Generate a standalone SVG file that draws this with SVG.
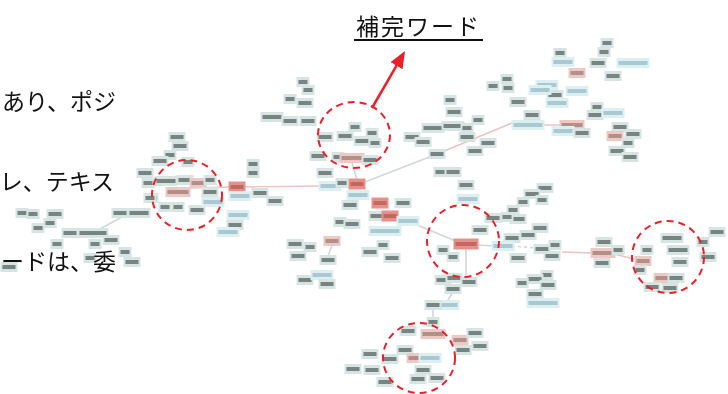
<svg xmlns="http://www.w3.org/2000/svg" xmlns:xlink="http://www.w3.org/1999/xlink" width="728" height="394" viewBox="0 0 728 394">
<style>
.jp{font-family:"Noto Sans CJK JP","Noto Sans",sans-serif;fill:#111;font-size:23px}
.ci{fill:none;stroke:#e8202a;stroke-width:2;stroke-dasharray:7 5}
.e{fill:none;stroke:#d3d6d6;stroke-width:1.6}
.ep{fill:none;stroke:#eac2c2;stroke-width:1.4}
.tb{fill:#d6e4e2}.tt{fill:#3f4847;opacity:.62}
.lb{fill:#dcf0f3}.lt{fill:#7fa8b0;opacity:.55}
.pb{fill:#ecc9c5}.pt{fill:#7a5550;opacity:.5}
.rb{fill:#e59189}.rt{fill:#a8453e;opacity:.55}
</style>
<defs>
<filter id="bl" x="-5%" y="-5%" width="110%" height="110%"><feGaussianBlur stdDeviation="0.75"/></filter>
<marker id="ah" markerUnits="userSpaceOnUse" markerWidth="18" markerHeight="15" refX="14" refY="7" orient="auto"><path d="M0,0 L17,7 L0,14 z" fill="#e8202a"/></marker>
<g id="s"><rect class="tb" x="-6.5" y="-5" width="13" height="10"/><rect class="tt" x="-4.5" y="-2" width="9" height="4"/></g>
<g id="m"><rect class="tb" x="-8.5" y="-5" width="17" height="10"/><rect class="tt" x="-6.5" y="-2" width="13" height="4"/></g>
<g id="w"><rect class="tb" x="-11.5" y="-5" width="23" height="10"/><rect class="tt" x="-9.5" y="-2" width="19" height="4"/></g>
<g id="W"><rect class="tb" x="-15.5" y="-5" width="31" height="10"/><rect class="tt" x="-13.5" y="-2" width="27" height="4"/></g>
<g id="L"><rect class="lb" x="-11.5" y="-5" width="23" height="10"/><rect class="lt" x="-9.5" y="-2" width="19" height="4"/></g>
<g id="LL"><rect class="lb" x="-16.5" y="-5" width="33" height="10"/><rect class="lt" x="-14.5" y="-2" width="29" height="4"/></g>
<g id="p"><rect class="pb" x="-8.5" y="-5" width="17" height="10"/><rect class="pt" x="-6.5" y="-2" width="13" height="4"/></g>
<g id="P"><rect class="pb" x="-12.5" y="-5" width="25" height="10"/><rect class="pt" x="-10.5" y="-2" width="21" height="4"/></g>
<g id="r"><rect class="rb" x="-8.5" y="-5.5" width="17" height="11"/><rect class="rt" x="-6.5" y="-2" width="13" height="4"/></g>
<g id="R"><rect class="rb" x="-12.5" y="-5.5" width="25" height="11"/><rect class="rt" x="-10.5" y="-2" width="21" height="4"/></g>
</defs>
<rect width="728" height="394" fill="#ffffff"/>
<g id="connectors" filter="url(#bl)">
<path class="ep" d="M245,187 L322,186"/>
<path class="e" d="M365,182 L437,154"/>
<path class="ep" d="M437,154 L512,123"/>
<path class="ep" d="M544,125 L562,125"/>
<path class="e" d="M458,242 L410,222"/>
<path class="e" d="M478,245 L495,246"/>
<path class="e" d="M512,246 L536,248" stroke-dasharray="3 3"/>
<path class="ep" d="M562,252 L592,253"/>
<path class="ep" d="M614,254 L634,259"/>
<path class="e" d="M433,309 L433,318"/>
<path class="e" d="M448,300 L453,292"/>
<path class="e" d="M122,217 L100,229"/>
<path class="e" d="M466,249 L466,275"/>
<path class="e" d="M332,245 L328,256"/>
<path class="ep" d="M187,188 L229,187"/>
<path class="e" d="M357,180 L352,163"/>
</g>
<g id="nodes" filter="url(#bl)">
<g id="n1"><use href="#s" x="22" y="213"/></g>
<g id="n2"><use href="#s" x="33" y="214"/></g>
<g id="n3"><use href="#m" x="55" y="214"/></g>
<g id="n4"><use href="#s" x="50" y="223"/></g>
<g id="n5"><use href="#s" x="38" y="228"/></g>
<g id="n6"><use href="#m" x="70" y="233"/></g>
<g id="n7"><use href="#W" x="93" y="233"/></g>
<g id="n8"><use href="#m" x="111" y="240"/></g>
<g id="n9"><use href="#s" x="95" y="244"/></g>
<g id="n10"><use href="#s" x="57" y="244"/></g>
<g id="n11"><use href="#s" x="125" y="252"/></g>
<g id="n12"><use href="#m" x="132" y="262"/></g>
<g id="n13"><use href="#s" x="90" y="258"/></g>
<g id="n14"><use href="#m" x="9" y="267"/></g>
<g id="n15"><use href="#m" x="120" y="213"/></g>
<g id="n16"><use href="#w" x="139" y="213"/></g>
<g id="n17"><use href="#s" x="152" y="198"/></g>
<g id="n18"><use href="#m" x="177" y="137"/></g>
<g id="n19"><use href="#m" x="180" y="146"/></g>
<g id="n20"><use href="#s" x="170" y="155"/></g>
<g id="n21"><use href="#m" x="160" y="161"/></g>
<g id="n22"><use href="#s" x="188" y="162"/></g>
<g id="n23"><use href="#m" x="145" y="173"/></g>
<g id="n24"><use href="#w" x="166" y="181"/></g>
<g id="n25"><use href="#s" x="148" y="183"/></g>
<g id="n26"><use href="#m" x="185" y="180"/></g>
<g id="n27"><use href="#p" x="198" y="183"/></g>
<g id="n28"><use href="#s" x="210" y="180"/></g>
<g id="n29"><use href="#m" x="210" y="192"/></g>
<g id="n30"><use href="#P" x="178" y="192"/></g>
<g id="n31"><use href="#s" x="150" y="198"/></g>
<g id="n32"><use href="#s" x="165" y="207"/></g>
<g id="n33"><use href="#s" x="178" y="207"/></g>
<g id="n34"><use href="#m" x="197" y="210"/></g>
<g id="n35"><use href="#L" x="213" y="202"/></g>
<g id="n37"><use href="#r" x="237" y="187"/></g>
<g id="n38"><use href="#s" x="253" y="164"/></g>
<g id="n39"><use href="#s" x="253" y="173"/></g>
<g id="n40"><use href="#L" x="240" y="196"/></g>
<g id="n41"><use href="#m" x="260" y="193"/></g>
<g id="n42"><use href="#m" x="275" y="201"/></g>
<g id="n43"><use href="#L" x="238" y="215"/></g>
<g id="n44"><use href="#m" x="235" y="225"/></g>
<g id="n45"><use href="#L" x="228" y="232"/></g>
<g id="n46"><use href="#s" x="303" y="82"/></g>
<g id="n47"><use href="#s" x="308" y="90"/></g>
<g id="n48"><use href="#s" x="290" y="99"/></g>
<g id="n49"><use href="#m" x="305" y="103"/></g>
<g id="n50"><use href="#w" x="272" y="117"/></g>
<g id="n51"><use href="#m" x="290" y="121"/></g>
<g id="n52"><use href="#m" x="308" y="121"/></g>
<g id="n53"><use href="#m" x="325" y="137"/></g>
<g id="n54"><use href="#m" x="345" y="136"/></g>
<g id="n55"><use href="#s" x="355" y="127"/></g>
<g id="n56"><use href="#m" x="362" y="141"/></g>
<g id="n57"><use href="#s" x="372" y="133"/></g>
<g id="n58"><use href="#s" x="375" y="143"/></g>
<g id="n59"><use href="#m" x="318" y="156"/></g>
<g id="n60"><use href="#s" x="338" y="157"/></g>
<g id="n61"><use href="#P" x="352" y="158"/></g>
<g id="n62"><use href="#m" x="370" y="160"/></g>
<g id="n63"><use href="#m" x="325" y="173"/></g>
<g id="n64"><use href="#L" x="330" y="186"/></g>
<g id="n65"><use href="#s" x="342" y="183"/></g>
<g id="n66"><use href="#r" x="357" y="184"/></g>
<g id="n67"><use href="#L" x="358" y="195"/></g>
<g id="n72"><use href="#m" x="350" y="205"/></g>
<g id="n73"><use href="#r" x="380" y="203"/></g>
<g id="n74"><use href="#m" x="403" y="203"/></g>
<g id="n75"><use href="#m" x="377" y="216"/></g>
<g id="n76"><use href="#r" x="390" y="216"/></g>
<g id="n77"><use href="#LL" x="385" y="231"/></g>
<g id="n78"><use href="#L" x="408" y="221"/></g>
<g id="n79"><use href="#s" x="340" y="222"/></g>
<g id="n80"><use href="#m" x="352" y="224"/></g>
<g id="n81"><use href="#p" x="332" y="241"/></g>
<g id="n82"><use href="#m" x="295" y="244"/></g>
<g id="n83"><use href="#s" x="310" y="247"/></g>
<g id="n84"><use href="#m" x="298" y="256"/></g>
<g id="n85"><use href="#m" x="328" y="260"/></g>
<g id="n86"><use href="#s" x="383" y="245"/></g>
<g id="n87"><use href="#m" x="370" y="252"/></g>
<g id="n88"><use href="#m" x="392" y="258"/></g>
<g id="n89"><use href="#m" x="305" y="280"/></g>
<g id="n90"><use href="#L" x="322" y="275"/></g>
<g id="n91"><use href="#m" x="327" y="284"/></g>
<g id="n92"><use href="#m" x="412" y="137"/></g>
<g id="n93"><use href="#w" x="433" y="128"/></g>
<g id="n94"><use href="#m" x="423" y="142"/></g>
<g id="n95"><use href="#m" x="437" y="154"/></g>
<g id="n96"><use href="#s" x="450" y="100"/></g>
<g id="n97"><use href="#m" x="454" y="112"/></g>
<g id="n98"><use href="#w" x="453" y="126"/></g>
<g id="n99"><use href="#s" x="467" y="128"/></g>
<g id="n100"><use href="#s" x="478" y="120"/></g>
<g id="n101"><use href="#m" x="467" y="137"/></g>
<g id="n102"><use href="#m" x="488" y="143"/></g>
<g id="n103"><use href="#m" x="442" y="172"/></g>
<g id="n104"><use href="#m" x="453" y="172"/></g>
<g id="n106"><use href="#m" x="466" y="185"/></g>
<g id="n107"><use href="#L" x="468" y="199"/></g>
<g id="n108"><use href="#m" x="475" y="151"/></g>
<g id="n109"><use href="#s" x="607" y="43"/></g>
<g id="n110"><use href="#s" x="604" y="52"/></g>
<g id="n111"><use href="#s" x="560" y="53"/></g>
<g id="n112"><use href="#L" x="563" y="62"/></g>
<g id="n113"><use href="#m" x="598" y="63"/></g>
<g id="n114"><use href="#LL" x="633" y="63"/></g>
<g id="n115"><use href="#p" x="577" y="73"/></g>
<g id="n116"><use href="#m" x="613" y="76"/></g>
<g id="n117"><use href="#s" x="507" y="79"/></g>
<g id="n118"><use href="#s" x="493" y="86"/></g>
<g id="n119"><use href="#s" x="508" y="88"/></g>
<g id="n120"><use href="#L" x="547" y="85"/></g>
<g id="n121"><use href="#m" x="555" y="95"/></g>
<g id="n122"><use href="#L" x="577" y="91"/></g>
<g id="n123"><use href="#L" x="540" y="90"/></g>
<g id="n124"><use href="#L" x="557" y="103"/></g>
<g id="n125"><use href="#m" x="518" y="102"/></g>
<g id="n126"><use href="#m" x="532" y="115"/></g>
<g id="n127"><use href="#LL" x="528" y="125"/></g>
<g id="n128"><use href="#s" x="597" y="107"/></g>
<g id="n129"><use href="#m" x="595" y="115"/></g>
<g id="n130"><use href="#L" x="613" y="113"/></g>
<g id="n131"><use href="#P" x="572" y="125"/></g>
<g id="n132"><use href="#L" x="563" y="131"/></g>
<g id="n133"><use href="#m" x="582" y="133"/></g>
<g id="n134"><use href="#m" x="620" y="127"/></g>
<g id="n135"><use href="#p" x="615" y="136"/></g>
<g id="n136"><use href="#m" x="633" y="134"/></g>
<g id="n137"><use href="#s" x="628" y="143"/></g>
<g id="n138"><use href="#m" x="617" y="151"/></g>
<g id="n139"><use href="#m" x="630" y="157"/></g>
<g id="n140"><use href="#m" x="545" y="188"/></g>
<g id="n141"><use href="#m" x="532" y="194"/></g>
<g id="n142"><use href="#s" x="523" y="202"/></g>
<g id="n143"><use href="#s" x="513" y="210"/></g>
<g id="n144"><use href="#m" x="518" y="219"/></g>
<g id="n145"><use href="#s" x="507" y="217"/></g>
<g id="n146"><use href="#m" x="493" y="218"/></g>
<g id="n147"><use href="#m" x="480" y="230"/></g>
<g id="n148"><use href="#R" x="466" y="244"/></g>
<g id="n149"><use href="#m" x="540" y="228"/></g>
<g id="n150"><use href="#m" x="528" y="235"/></g>
<g id="n151"><use href="#m" x="512" y="238"/></g>
<g id="n152"><use href="#L" x="503" y="246"/></g>
<g id="n153"><use href="#m" x="542" y="249"/></g>
<g id="n154"><use href="#s" x="555" y="245"/></g>
<g id="n155"><use href="#m" x="552" y="256"/></g>
<g id="n156"><use href="#m" x="518" y="258"/></g>
<g id="n157"><use href="#m" x="604" y="242"/></g>
<g id="n158"><use href="#P" x="603" y="253"/></g>
<g id="n159"><use href="#m" x="602" y="263"/></g>
<g id="n160"><use href="#s" x="443" y="250"/></g>
<g id="n161"><use href="#s" x="453" y="257"/></g>
<g id="n162"><use href="#m" x="443" y="280"/></g>
<g id="n163"><use href="#m" x="454" y="278"/></g>
<g id="n164"><use href="#m" x="469" y="282"/></g>
<g id="n165"><use href="#m" x="453" y="289"/></g>
<g id="n166"><use href="#s" x="547" y="275"/></g>
<g id="n167"><use href="#m" x="535" y="279"/></g>
<g id="n168"><use href="#s" x="522" y="283"/></g>
<g id="n169"><use href="#m" x="548" y="285"/></g>
<g id="n170"><use href="#m" x="535" y="294"/></g>
<g id="n171"><use href="#LL" x="543" y="303"/></g>
<g id="n172"><use href="#L" x="448" y="305"/></g>
<g id="n173"><use href="#s" x="542" y="200"/></g>
<g id="n174"><use href="#s" x="618" y="250"/></g>
<g id="n175"><use href="#s" x="647" y="250"/></g>
<g id="n176"><use href="#p" x="643" y="261"/></g>
<g id="n177"><use href="#s" x="640" y="270"/></g>
<g id="n178"><use href="#w" x="672" y="238"/></g>
<g id="n179"><use href="#w" x="678" y="250"/></g>
<g id="n180"><use href="#m" x="680" y="262"/></g>
<g id="n181"><use href="#p" x="662" y="278"/></g>
<g id="n182"><use href="#m" x="676" y="278"/></g>
<g id="n183"><use href="#m" x="652" y="287"/></g>
<g id="n184"><use href="#m" x="670" y="288"/></g>
<g id="n185"><use href="#s" x="703" y="242"/></g>
<g id="n186"><use href="#m" x="708" y="257"/></g>
<g id="n187"><use href="#m" x="717" y="232"/></g>
<g id="n188"><use href="#m" x="433" y="305"/></g>
<g id="n189"><use href="#s" x="433" y="322"/></g>
<g id="n190"><use href="#m" x="408" y="331"/></g>
<g id="n191"><use href="#P" x="433" y="334"/></g>
<g id="n192"><use href="#p" x="460" y="340"/></g>
<g id="n193"><use href="#m" x="475" y="333"/></g>
<g id="n194"><use href="#m" x="480" y="346"/></g>
<g id="n195"><use href="#m" x="463" y="350"/></g>
<g id="n196"><use href="#m" x="405" y="350"/></g>
<g id="n197"><use href="#p" x="415" y="358"/></g>
<g id="n198"><use href="#L" x="430" y="358"/></g>
<g id="n199"><use href="#m" x="390" y="359"/></g>
<g id="n200"><use href="#m" x="370" y="354"/></g>
<g id="n201"><use href="#m" x="353" y="369"/></g>
<g id="n202"><use href="#m" x="372" y="370"/></g>
<g id="n203"><use href="#m" x="423" y="370"/></g>
<g id="n204"><use href="#m" x="418" y="379"/></g>
<g id="n205"><use href="#m" x="437" y="378"/></g>
<g id="n206"><use href="#m" x="385" y="382"/></g>
</g>
<g id="highlights">
<ellipse class="ci" cx="354" cy="135" rx="36" ry="33"/>
<ellipse class="ci" cx="187" cy="195" rx="35" ry="35"/>
<ellipse class="ci" cx="463" cy="241" rx="36" ry="36"/>
<ellipse class="ci" cx="668" cy="257" rx="36" ry="36"/>
<ellipse class="ci" cx="419" cy="358" rx="36" ry="35"/>
</g>
<g id="label">
<text class="jp" x="356" y="35" letter-spacing="2">補完ワード</text>
<line x1="354" y1="40" x2="483" y2="40" stroke="#111" stroke-width="2"/>
<line x1="372" y1="108" x2="403.5" y2="53.6" stroke="#e8202a" stroke-width="2.5" marker-end="url(#ah)"/>
</g>
<g id="bodytext">
<text class="jp" x="116" y="110" text-anchor="end">あり、ポジ</text>
<text class="jp" x="114" y="190" text-anchor="end">レ、テキス</text>
<text class="jp" x="116" y="270" text-anchor="end">ードは、委</text>
</g>
</svg>
